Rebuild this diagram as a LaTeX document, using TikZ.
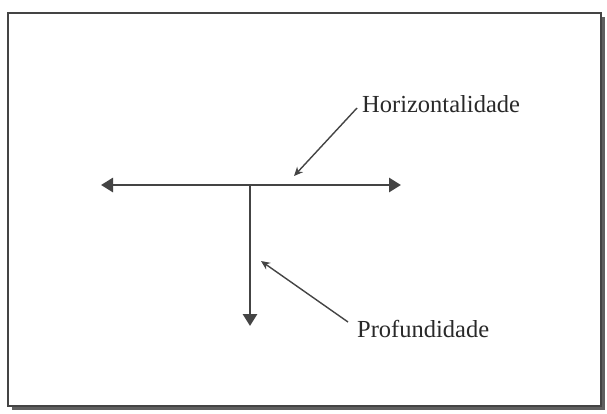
\documentclass[tikz,border=0pt]{standalone}
\usepackage{fontspec}
\setmainfont{Liberation Serif}
\usetikzlibrary{arrows.meta}
\definecolor{ink}{RGB}{68,68,68}
\tikzset{
  mainarrow/.style={draw=ink, line width=2.8pt, -{Triangle[length=12pt,width=14pt]}},
  labarrow/.style={draw=ink, line width=1.4pt, -{Stealth[length=9pt,width=8pt]}},
  lab/.style={inner sep=0pt, anchor=base west, text=ink!60!black, font=\fontsize{24.5}{28}\selectfont},
}
\begin{document}
\begin{tikzpicture}[x=1pt,y=-1pt]
\useasboundingbox (0,0) rectangle (607,413);
% frame with shadow
\fill[ink!85] (12,17) rectangle (605,410);
\filldraw[fill=white, draw=ink, line width=1.6pt] (8,13) rectangle (601,406);
% main arrows
\coordinate (L) at (101,185);
\coordinate (R) at (401,185);
\coordinate (J) at (250,185);
\coordinate (D) at (250,326);
\draw[mainarrow, {Triangle[length=12pt,width=14pt]}-{Triangle[length=12pt,width=14pt]}] (L) -- (R);
\draw[mainarrow] (J) -- (D);
% labels
\node[lab] (hl) at (362,112) {Horizontalidade};
\node[lab] (pf) at (357,337) {Profundidade};
\coordinate (hs) at (357,108);
\coordinate (ht) at (294,176);
\coordinate (ps) at (348,322);
\coordinate (pt) at (261,261);
\draw[labarrow] (hs) -- (ht);
\draw[labarrow] (ps) -- (pt);
\end{tikzpicture}
\end{document}
